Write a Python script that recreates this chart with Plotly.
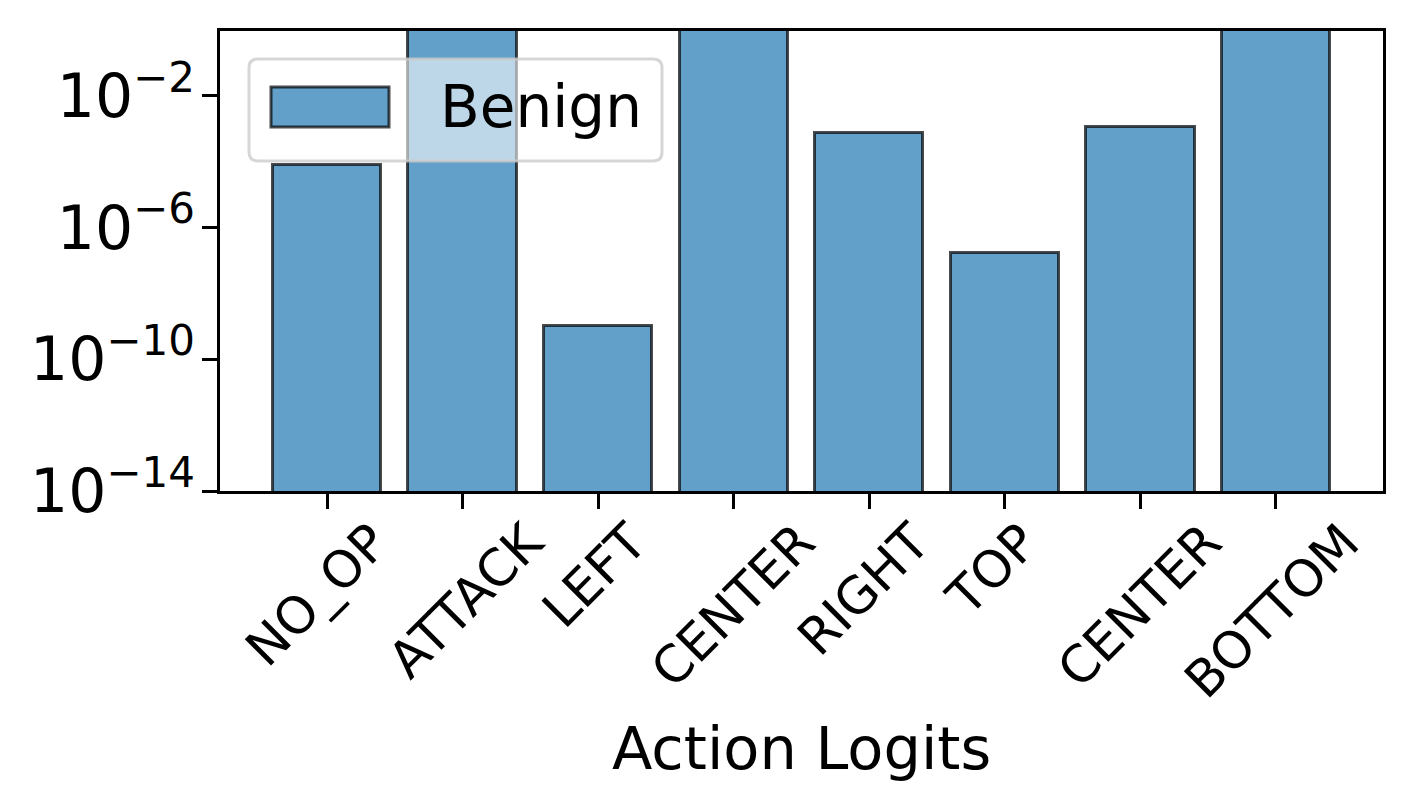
import plotly.graph_objects as go

# ---- data ----
categories = ["NO_OP", "ATTACK", "LEFT", "CENTER", "RIGHT", "TOP", "CENTER", "BOTTOM"]
benign_values = [8e-5, 1.0, 1e-9, 1.0, 7.5e-4, 1.7e-7, 1.1e-3, 1.0]
y_tick_vals = [1e-14, 1e-10, 1e-6, 1e-2]
y_tick_text = ["10<sup>\u221214</sup>", "10<sup>\u221210</sup>", "10<sup>\u22126</sup>", "10<sup>\u22122</sup>"]
series_name = "Benign"
x_title = "Action Logits"

# ---- layout / styling ----
PAGE_OFF = 8                      # default body margin of the html page
W, H = 1412 - PAGE_OFF, 811 - PAGE_OFF
L, R, T, B = 220 - PAGE_OFF, 29, 31 - PAGE_OFF, 320
PW, PH = W - L - R, H - T - B
FONT = "DejaVu Sans"
BAR_FILL = "rgba(31,119,180,0.7)"
BAR_LINE = "rgba(0,0,0,0.7)"
# horizontal shift (px) of each rotated label's end, so the rotated label is centred on its tick
LABEL_END_SHIFT_PX = [46, 65, 33, 66, 45, 18, 66, 68]
UNIT_PX = PW / (len(categories) - 1 + 2 * 0.79)

def px(xp):
    return (xp - PAGE_OFF - L) / PW

def py(yp):
    return (T + PH - (yp - PAGE_OFF)) / PH

xs = list(range(len(categories)))
label_pos = [i + s / UNIT_PX for i, s in zip(xs, LABEL_END_SHIFT_PX)]

fig = go.Figure()
fig.add_trace(go.Bar(
    x=xs, y=benign_values, width=0.8, name=series_name,
    marker=dict(color=BAR_FILL, line=dict(color=BAR_LINE, width=3)),
    showlegend=False,
))
# invisible helper trace bound to the label axis
fig.add_trace(go.Scatter(x=[None], y=[None], xaxis="x2", yaxis="y",
                         showlegend=False, hoverinfo="skip"))

xr = [-0.79, len(categories) - 1 + 0.79]
fig.update_layout(
    width=W, height=H,
    margin=dict(l=L, r=R, t=T, b=B, pad=0),
    plot_bgcolor="white", paper_bgcolor="white",
    font=dict(family=FONT, color="black"),
    bargap=0,
    xaxis=dict(
        range=xr, tickvals=xs, showticklabels=False,
        ticks="outside", ticklen=15, tickwidth=3, tickcolor="black",
        showline=True, linecolor="black", linewidth=3, mirror=True,
        showgrid=False, zeroline=False,
    ),
    xaxis2=dict(
        overlaying="x", anchor="y", side="bottom", range=xr,
        tickvals=label_pos, ticktext=categories, tickangle=-45,
        tickfont=dict(size=51, family=FONT, color="black"),
        ticks="", ticklabelstandoff=10,
        showline=False, showgrid=False, zeroline=False,
    ),
    yaxis=dict(
        type="log", range=[-14, -0.03],
        tickvals=y_tick_vals, ticktext=y_tick_text,
        tickfont=dict(size=60, family=FONT, color="black"),
        ticks="outside", ticklen=15, tickwidth=3, tickcolor="black",
        ticklabelstandoff=-5,
        showline=True, linecolor="black", linewidth=3, mirror=True,
        showgrid=False, zeroline=False,
    ),
)

annotations = [
    dict(x=0.5, xref="paper", y=py(748), yref="paper", xanchor="center", yanchor="middle",
         text=x_title, showarrow=False, font=dict(size=59, family=FONT, color="black")),
    dict(x=px(438), xref="paper", y=py(107), yref="paper", xanchor="left", yanchor="middle",
         text=series_name, showarrow=False, font=dict(size=58, family=FONT, color="black")),
]

# custom legend frame (rounded) and patch
x0, x1, y0, y1 = px(249), px(662), py(161), py(59)
rx, ry = 9 / PW, 9 / PH
path = (f"M{x0+rx},{y0} L{x1-rx},{y0} Q{x1},{y0} {x1},{y0+ry} L{x1},{y1-ry} "
        f"Q{x1},{y1} {x1-rx},{y1} L{x0+rx},{y1} Q{x0},{y1} {x0},{y1-ry} "
        f"L{x0},{y0+ry} Q{x0},{y0} {x0+rx},{y0} Z")
shapes = [
    dict(type="path", path=path, xref="paper", yref="paper", layer="above",
         fillcolor="rgba(255,255,255,0.58)", line=dict(color="rgba(204,204,204,0.8)", width=3)),
    dict(type="rect", xref="paper", yref="paper", layer="above",
         x0=px(271), x1=px(389), y0=py(127), y1=py(87),
         fillcolor=BAR_FILL, line=dict(color=BAR_LINE, width=3)),
]
fig.update_layout(annotations=annotations, shapes=shapes)

fig.write_html("out.html")
